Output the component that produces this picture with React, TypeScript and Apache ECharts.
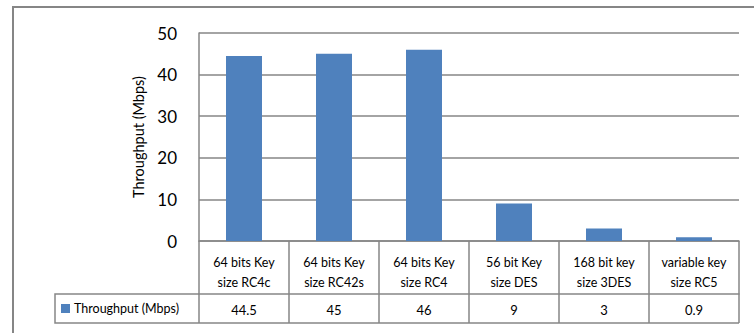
import React, { useEffect, useRef } from "react";
import * as echarts from "echarts";

// Throughput per cipher configuration
const seriesName = "Throughput (Mbps)";
const categories = [
  "64 bits Key\nsize RC4c",
  "64 bits Key\nsize RC42s",
  "64 bits Key\nsize RC4",
  "56 bit Key\nsize DES",
  "168 bit key\nsize 3DES",
  "variable key\nsize RC5",
];
const throughput = [44.5, 45, 46, 9, 3, 0.9];
const yTicks = { min: 0, max: 50, interval: 10 };

const FONT = "Lato, 'Open Sans', sans-serif";
const GRID_COLOR = "#868686";
const BAR_COLOR = "#4F81BD";

export default function App() {
  const ref = useRef<HTMLDivElement>(null);

  useEffect(() => {
    if (!ref.current) return;
    const chart = echarts.init(ref.current, null, { renderer: "svg" });
    chart.setOption({
      animation: false,
      backgroundColor: "#ffffff",
      textStyle: { fontFamily: FONT, color: "#000" },
      grid: { left: 199, right: 15, top: 33, bottom: 92 },
      legend: {
        data: [seriesName],
        left: 61,
        top: 302,
        icon: "rect",
        itemWidth: 9,
        itemHeight: 9,
        itemGap: 0,
        padding: 0,
        textStyle: { fontFamily: FONT, fontSize: 12.5, color: "#000", padding: [0, 0, 0, -1] },
        selectedMode: false,
      },
      xAxis: [
        {
          type: "category",
          data: categories,
          position: "bottom",
          axisLine: { show: true, lineStyle: { color: GRID_COLOR, width: 1.5 } },
          axisTick: {
            show: true,
            interval: 0,
            length: 53,
            lineStyle: { color: GRID_COLOR, width: 1.5 },
          },
          axisLabel: {
            interval: 0,
            margin: 11,
            fontFamily: FONT,
            fontSize: 12.5,
            lineHeight: 20,
            color: "#000",
            align: "center",
          },
        },
        {
          type: "category",
          data: throughput.map((v) => String(v)),
          position: "bottom",
          offset: 53,
          axisLine: { show: true, lineStyle: { color: GRID_COLOR, width: 1.5 } },
          axisTick: {
            show: true,
            interval: 0,
            length: 29,
            lineStyle: { color: GRID_COLOR, width: 1.5 },
          },
          axisLabel: {
            interval: 0,
            margin: 8,
            fontFamily: FONT,
            fontSize: 13,
            lineHeight: 16,
            color: "#000",
          },
        },
      ],
      yAxis: {
        type: "value",
        min: yTicks.min,
        max: yTicks.max,
        interval: yTicks.interval,
        name: seriesName,
        nameLocation: "middle",
        nameGap: 50,
        nameTextStyle: { fontFamily: FONT, fontSize: 14.5, color: "#000" },
        axisLine: { show: true, lineStyle: { color: GRID_COLOR, width: 1.5 } },
        axisTick: { show: false },
        axisLabel: { margin: 22, fontFamily: FONT, fontSize: 17, color: "#000" },
        splitLine: { show: true, lineStyle: { color: GRID_COLOR, width: 1.5 } },
      },
      series: [
        {
          name: seriesName,
          type: "bar",
          xAxisIndex: 0,
          data: throughput,
          barWidth: "40%",
          itemStyle: { color: BAR_COLOR },
        },
      ],
      graphic: [
        // outer chart frame
        {
          type: "rect",
          shape: { x: 13, y: 7, width: 800, height: 400 },
          style: { fill: "none", stroke: GRID_COLOR, lineWidth: 2 },
          silent: true,
        },
        // legend cell of the data table
        {
          type: "polyline",
          shape: { points: [[199, 294], [55, 294], [55, 323], [739, 323]] },
          style: { fill: "none", stroke: GRID_COLOR, lineWidth: 1.5 },
          silent: true,
        },
      ],
    });
    return () => chart.dispose();
  }, []);

  return (
    <div
      ref={ref}
      style={{ position: "fixed", left: 0, top: 0, width: 754, height: 333 }}
    />
  );
}
